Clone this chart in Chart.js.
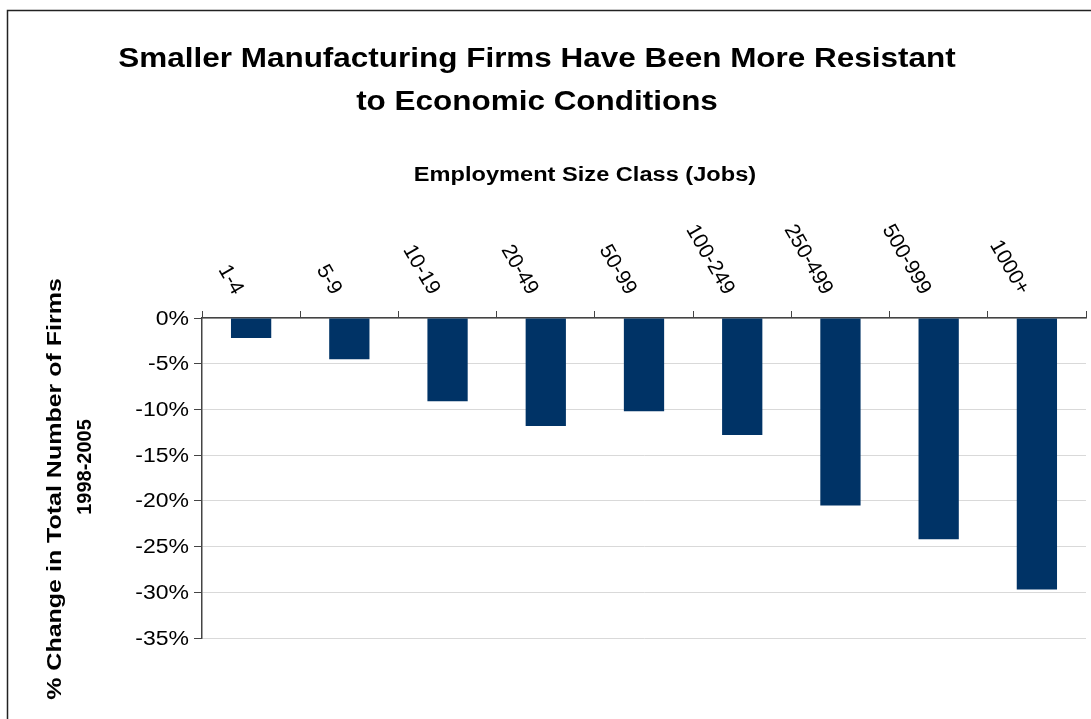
<!DOCTYPE html>
<html>
<head>
<meta charset="utf-8">
<script src="https://cdn.jsdelivr.net/npm/chart.js@4"></script>
<style>
  html, body { margin: 0; padding: 0; background: #fff; }
  #wrap { position: absolute; left: 0; top: 0; width: 1091px; height: 719px; }
</style>
</head>
<body>
<div id="wrap"><canvas id="firmsChart"></canvas></div>
<script>
// Datos del gráfico
const sizeClasses = ['1-4', '5-9', '10-19', '20-49', '50-99', '100-249', '250-499', '500-999', '1000+'];
const pctChange = [-2.2, -4.5, -9.1, -11.8, -10.2, -12.8, -20.5, -24.2, -29.7];
const titleLines = ['Smaller Manufacturing Firms Have Been More Resistant', 'to Economic Conditions'];
const xTitle = 'Employment Size Class (Jobs)';
const yTitleLines = ['% Change in Total Number of Firms', '1998-2005'];

const FONT = '"Liberation Sans", Arial, sans-serif';

// Texto con estiramiento horizontal (el original está ensanchado)
function drawText(ctx, text, x, y, font, sx, align) {
    ctx.save();
    ctx.translate(x, y);
    ctx.scale(sx, 1);
    ctx.font = font;
    ctx.textAlign = align;
    ctx.fillText(text, 0, 0);
    ctx.restore();
}

// Marco, títulos y etiquetas
const decorPlugin = {
    id: 'decor',
    beforeDraw(chart) {
        const ctx = chart.ctx;
        ctx.save();
        ctx.strokeStyle = '#222';
        ctx.lineWidth = 1.5;
        ctx.beginPath();
        ctx.moveTo(7.5, 719);
        ctx.lineTo(7.5, 10.5);
        ctx.lineTo(1091, 10.5);
        ctx.stroke();
        ctx.restore();
    },
    afterDraw(chart) {
        const ctx = chart.ctx;
        const xs = chart.scales.x;
        const ys = chart.scales.y;
        ctx.save();
        ctx.fillStyle = '#000';
        ctx.textBaseline = 'alphabetic';

        // Título principal
        drawText(ctx, titleLines[0], 537, 67, 'bold 27px ' + FONT, 1.165, 'center');
        drawText(ctx, titleLines[1], 537, 110, 'bold 27px ' + FONT, 1.165, 'center');

        // Título eje X
        drawText(ctx, xTitle, 585, 181, 'bold 20px ' + FONT, 1.18, 'center');

        // Título eje Y (dos líneas)
        ctx.save();
        ctx.translate(61, 489);
        ctx.rotate(-Math.PI / 2);
        ctx.scale(1.19, 1);
        ctx.textAlign = 'center';
        ctx.font = 'bold 21px ' + FONT;
        ctx.fillText(yTitleLines[0], 0, 0);
        ctx.restore();
        ctx.save();
        ctx.translate(91, 467);
        ctx.rotate(-Math.PI / 2);
        ctx.textAlign = 'center';
        ctx.font = 'bold 20px ' + FONT;
        ctx.fillText(yTitleLines[1], 0, 0);
        ctx.restore();

        // Etiquetas del eje Y
        ctx.textBaseline = 'middle';
        ys.ticks.forEach(t => {
            const y = ys.getPixelForValue(t.value);
            drawText(ctx, t.value + '%', 189, y + 1, '20px ' + FONT, 1.15, 'right');
        });

        // Etiquetas de categoría giradas
        ctx.font = '21px ' + FONT;
        ctx.textAlign = 'right';
        ctx.textBaseline = 'middle';
        sizeClasses.forEach((label, i) => {
            const x = xs.getPixelForValue(i);
            ctx.save();
            ctx.translate(x - 13, xs.bottom - 25);
            ctx.rotate(Math.PI / 3);
            ctx.fillText(label, 0, 0);
            ctx.restore();
        });
        ctx.restore();
    }
};

const ctx = document.getElementById('firmsChart');

new Chart(ctx, {
    type: 'bar',
    data: {
        labels: sizeClasses,
        datasets: [{
            data: pctChange,
            backgroundColor: '#003366',
            borderWidth: 0,
            barPercentage: 0.41,
            categoryPercentage: 1
        }]
    },
    options: {
        responsive: true,
        maintainAspectRatio: false,
        animation: false,
        devicePixelRatio: 1,
        layout: {
            padding: { left: 0, right: 5, top: 0, bottom: 81 }
        },
        plugins: {
            legend: { display: false },
            tooltip: { enabled: false },
            title: { display: false }
        },
        scales: {
            x: {
                position: 'top',
                offset: true,
                afterFit: function(scale) { scale.height = 318; },
                grid: {
                    offset: true,
                    drawOnChartArea: false,
                    drawTicks: true,
                    tickLength: 7,
                    tickColor: '#444',
                    lineWidth: 1
                },
                border: { color: '#444', width: 1.5 },
                ticks: { display: false }
            },
            y: {
                min: -35,
                max: 0,
                afterFit: function(scale) { scale.width = 202; },
                ticks: {
                    stepSize: 5,
                    display: false
                },
                grid: {
                    color: '#d9d9d9',
                    lineWidth: 1,
                    tickLength: 8,
                    tickColor: '#444'
                },
                border: { color: '#444', width: 1.5 }
            }
        }
    },
    plugins: [decorPlugin]
});
</script>
</body>
</html>
